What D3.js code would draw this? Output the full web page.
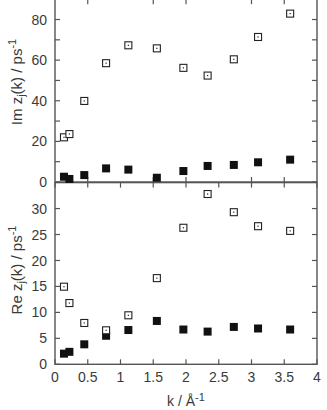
<!DOCTYPE html>
<html>
<head>
<meta charset="utf-8">
<script src="https://cdn.jsdelivr.net/npm/d3@7"></script>
<style>
  body { margin: 0; background: #fff; }
  text { font-family: "Liberation Sans", Arial, sans-serif; fill: #3a3a3a; }
</style>
</head>
<body>
<svg id="chart" width="327" height="410"></svg>
<script>
// wave vectors k (1/Å)
const kValues = [0.137, 0.22, 0.447, 0.78, 1.12, 1.555, 1.96, 2.33, 2.73, 3.10, 3.59];

// Im z_j(k), ps^-1
const imOpen   = [22.0, 23.6, 39.9, 58.5, 67.3, 65.8, 56.2, 52.4, 60.4, 71.4, 82.9];
const imFilled = [2.6, 1.5, 3.4, 6.7, 6.1, 2.1, 5.4, 7.9, 8.4, 9.7, 11.0];

// Re z_j(k), ps^-1
const reOpen   = [14.95, 11.8, 7.96, 6.55, 9.44, 16.6, 26.3, 32.8, 29.3, 26.6, 25.7];
const reFilled = [2.05, 2.4, 3.85, 5.5, 6.6, 8.35, 6.7, 6.3, 7.2, 6.9, 6.7];

// tick labels
const xTicks = [0, 0.5, 1, 1.5, 2, 2.5, 3, 3.5, 4];
const xTicksTopPanel = [0.5, 1.5, 2, 3, 3.5];
const imTicks = [0, 20, 40, 60, 80];
const imMinor = [10, 30, 50, 70];
const reTicks = [0, 5, 10, 15, 20, 25, 30];

const svg = d3.select("#chart");
const left = 55, right = 317;
const axisColor = "#555";
const tick = 5;

const x = d3.scaleLinear().domain([0, 4]).range([left, right]);
const yIm = d3.scaleLinear().domain([0, 90]).range([182, -0.8]);
const yRe = d3.scaleLinear().domain([0, 35]).range([364.3, 182.6]);

function panel(y, yTickVals, yMinor, xTickVals, showX) {
  const g = svg.append("g");
  const [y0, y1] = y.range();

  // inward ticks, left and right
  const allY = yTickVals.concat(yMinor);
  g.selectAll(".tl").data(allY).join("line")
    .attr("x1", left).attr("x2", left + tick)
    .attr("y1", d => y(d)).attr("y2", d => y(d))
    .attr("stroke", axisColor).attr("stroke-width", 1.2);
  g.selectAll(".tr").data(allY).join("line")
    .attr("x1", right).attr("x2", right - tick)
    .attr("y1", d => y(d)).attr("y2", d => y(d))
    .attr("stroke", axisColor).attr("stroke-width", 1.2);

  // inward ticks, bottom and top
  g.selectAll(".tb").data(xTickVals).join("line")
    .attr("x1", d => x(d)).attr("x2", d => x(d))
    .attr("y1", y0).attr("y2", y0 - tick)
    .attr("stroke", axisColor).attr("stroke-width", 1.2);
  g.selectAll(".tt").data(xTickVals).join("line")
    .attr("x1", d => x(d)).attr("x2", d => x(d))
    .attr("y1", y1).attr("y2", y1 + tick)
    .attr("stroke", axisColor).attr("stroke-width", 1.2);

  // frame
  g.append("rect")
    .attr("x", left).attr("y", y1)
    .attr("width", right - left).attr("height", y0 - y1)
    .attr("fill", "none").attr("stroke", axisColor).attr("stroke-width", 1.4);

  // y tick labels
  g.selectAll(".yl").data(yTickVals).join("text")
    .attr("x", left - 8).attr("y", d => y(d))
    .attr("dy", "0.36em")
    .attr("text-anchor", "end")
    .attr("font-size", 14)
    .text(d => d);

  if (showX) {
    g.selectAll(".xl").data(xTicks).join("text")
      .attr("x", d => x(d)).attr("y", y0 + 18)
      .attr("text-anchor", "middle")
      .attr("font-size", 14)
      .text(d => d);
  }
  return g;
}

function points(y, openVals, filledVals) {
  const g = svg.append("g");
  const s = 7, f = 8;
  g.selectAll(".f").data(filledVals).join("rect")
    .attr("x", (d, i) => x(kValues[i]) - f / 2)
    .attr("y", d => y(d) - f / 2)
    .attr("width", f).attr("height", f)
    .attr("fill", "#111");
  g.selectAll(".o").data(openVals).join("rect")
    .attr("x", (d, i) => x(kValues[i]) - s / 2)
    .attr("y", d => y(d) - s / 2)
    .attr("width", s).attr("height", s)
    .attr("fill", "#fff").attr("stroke", "#222").attr("stroke-width", 1.1);
  g.selectAll(".od").data(openVals).join("rect")
    .attr("x", (d, i) => x(kValues[i]) - 0.6)
    .attr("y", d => y(d) - 0.6)
    .attr("width", 1.2).attr("height", 1.2)
    .attr("fill", "#222");
}

panel(yIm, imTicks, imMinor, xTicksTopPanel, false);
panel(yRe, reTicks, [], xTicks, true);
points(yIm, imOpen, imFilled);
points(yRe, reOpen, reFilled);

// axis titles
function yTitle(cx, cy, name) {
  const t = svg.append("text")
    .attr("transform", `translate(${cx},${cy}) rotate(-90)`)
    .attr("text-anchor", "middle")
    .attr("font-size", 15);
  t.append("tspan").text(name + " z");
  t.append("tspan").attr("font-size", 11).attr("dy", 3).text("j");
  t.append("tspan").attr("dy", -3).text("(k) / ps");
  t.append("tspan").attr("font-size", 11).attr("dy", -6).text("-1");
}
yTitle(22, 82, "Im");
yTitle(22, 270, "Re");

const xt = svg.append("text")
  .attr("x", 186).attr("y", 406)
  .attr("text-anchor", "middle")
  .attr("font-size", 14);
xt.append("tspan").text("k / Å");
xt.append("tspan").attr("font-size", 11).attr("dy", -5).text("-1");
</script>
</body>
</html>
